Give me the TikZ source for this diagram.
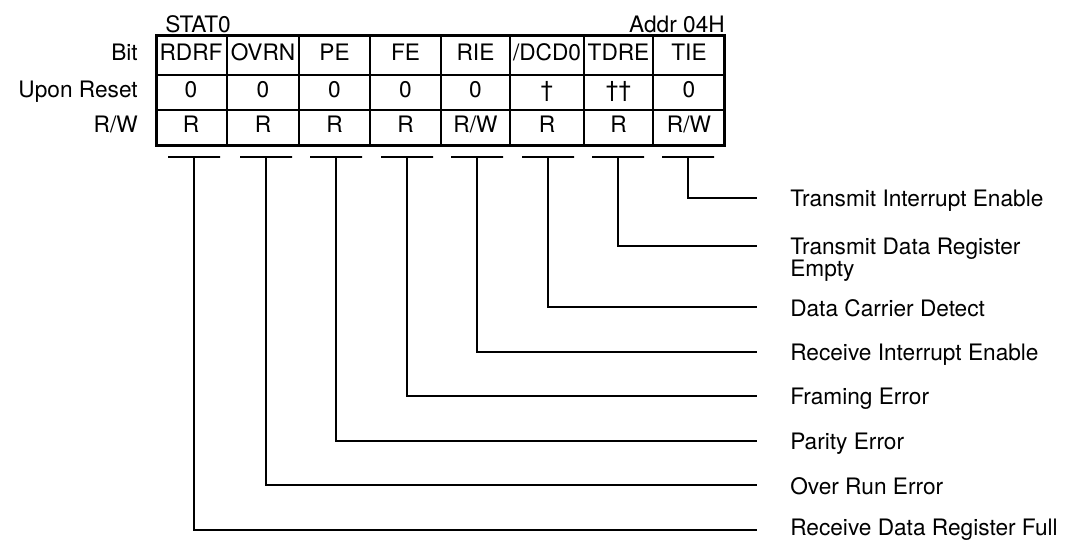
\documentclass[tikz,border=0pt]{standalone}
\usepackage{fontspec}
\setmainfont{TeX Gyre Heros}
\begin{document}
\begin{tikzpicture}[x=0.75pt,y=-0.75pt]
	\tikzstyle{field}=[font=\fontsize{17}{16.5}\selectfont,inner sep=0pt]
	\tikzstyle{cell}=[field,anchor=base]
	\tikzstyle{rowname}=[field,anchor=base east]
	\tikzstyle{desc}=[field,anchor=north west,align=left]
	\tikzstyle{frame}=[draw,line width=2.25pt]
	\tikzstyle{grid}=[draw,line width=1.5pt]
	\tikzstyle{tick}=[draw,line width=1.1pt,minimum width=39pt,minimum height=0pt,inner sep=0pt]
	\tikzstyle{wire}=[draw,line width=1.1pt]
	\useasboundingbox (0,0) rectangle (1069,539);
	\begin{scope}
		% register table
		\path[grid] (156,75) -- (724,75);
		\path[grid] (156,110) -- (724,110);
		\path[grid] (227,35) -- (227,145);
		\path[grid] (299,35) -- (299,145);
		\path[grid] (370,35) -- (370,145);
		\path[grid] (441,35) -- (441,145);
		\path[grid] (510,35) -- (510,145);
		\path[grid] (584,35) -- (584,145);
		\path[grid] (653,35) -- (653,145);
		\path[frame] (156,35) rectangle (724,145);
		\node [field,anchor=base west] (name) at (165,32) {STAT0};
		\node [field,anchor=base east] (addr) at (725,32) {Addr 04H};
		\node [rowname] (lbit) at (138,60) {Bit};
		\node [rowname] (lrst) at (138,97) {Upon Reset};
		\node [rowname] (lrw) at (138,132) {R/W};
		% bit names
		\node [cell] (bit7) at (191,60) {RDRF};
		\node [cell] (bit6) at (263,60) {OVRN};
		\node [cell] (bit5) at (334.5,60) {PE};
		\node [cell] (bit4) at (405.5,60) {FE};
		\node [cell] (bit3) at (475.5,60) {RIE};
		\node [cell] (bit2) at (547,60) {/DCD0};
		\node [cell] (bit1) at (618.5,60) {TDRE};
		\node [cell] (bit0) at (689,60) {TIE};
		% reset values
		\node [cell] (rst7) at (191,97) {0};
		\node [cell] (rst6) at (263,97) {0};
		\node [cell] (rst5) at (334.5,97) {0};
		\node [cell] (rst4) at (405.5,97) {0};
		\node [cell] (rst3) at (475.5,97) {0};
		\node [cell] (rst2) at (547,97) {†};
		\node [cell] (rst1) at (618.5,97) {††};
		\node [cell] (rst0) at (689,97) {0};
		% access
		\node [cell] (rw7) at (191,132) {R};
		\node [cell] (rw6) at (263,132) {R};
		\node [cell] (rw5) at (334.5,132) {R};
		\node [cell] (rw4) at (405.5,132) {R};
		\node [cell] (rw3) at (475.5,132) {R/W};
		\node [cell] (rw2) at (547,132) {R};
		\node [cell] (rw1) at (618.5,132) {R};
		\node [cell] (rw0) at (689,132) {R/W};
	\end{scope}
	\begin{scope}
		% bit descriptions
		\node [tick] (tick7) at (194,157) {};
		\node [tick] (tick6) at (266,157) {};
		\node [tick] (tick5) at (336,157) {};
		\node [tick] (tick4) at (407,157) {};
		\node [tick] (tick3) at (477,157) {};
		\node [tick] (tick2) at (548,157) {};
		\node [tick] (tick1) at (618,157) {};
		\node [tick] (tick0) at (688,157) {};
		\coordinate (end7) at (757,530);
		\coordinate (end6) at (757,485);
		\coordinate (end5) at (757,441);
		\coordinate (end4) at (757,396);
		\coordinate (end3) at (757,352);
		\coordinate (end2) at (757,307);
		\coordinate (end1) at (757,246);
		\coordinate (end0) at (757,198);
		\node [desc] (desc7) at (790,519) {Receive Data Register Full};
		\node [desc] (desc6) at (790,477) {Over Run Error};
		\node [desc] (desc5) at (790,433) {Parity Error};
		\node [desc] (desc4) at (790,388) {Framing Error};
		\node [desc] (desc3) at (790,344) {Receive Interrupt Enable};
		\node [desc] (desc2) at (790,299) {Data Carrier Detect};
		\node [desc] (desc1) at (790,238) {Transmit Data Register\\Empty};
		\node [desc] (desc0) at (790,190) {Transmit Interrupt Enable};
		\path[wire] (tick7.center) |- (end7);
		\path[wire] (tick6.center) |- (end6);
		\path[wire] (tick5.center) |- (end5);
		\path[wire] (tick4.center) |- (end4);
		\path[wire] (tick3.center) |- (end3);
		\path[wire] (tick2.center) |- (end2);
		\path[wire] (tick1.center) |- (end1);
		\path[wire] (tick0.center) |- (end0);
	\end{scope}
\end{tikzpicture}
\end{document}
